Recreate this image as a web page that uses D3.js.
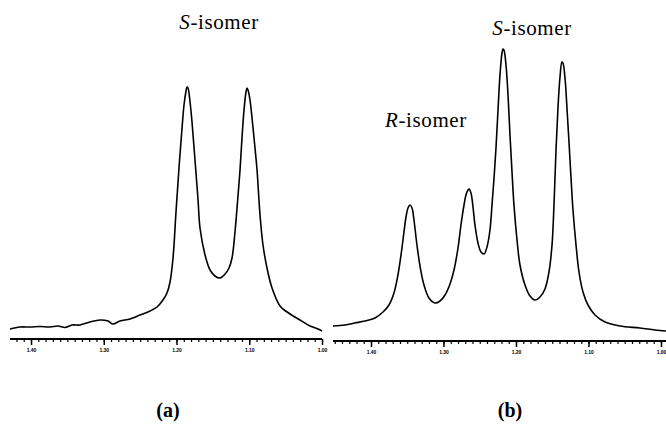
<!DOCTYPE html>
<html><head><meta charset="utf-8">
<script src="https://cdn.jsdelivr.net/npm/d3@7"></script>
<style>body{margin:0;background:#fff}svg{display:block}</style>
</head><body>
<svg id="c" width="666" height="441"></svg>
<script>
// Panel (a): chemical shift (ppm) and intensity (arbitrary units)
const ppmA = [1.4289,1.4151,1.4014,1.3876,1.3739,1.3629,1.3533,1.3436,1.3326,1.3189,1.3052,1.2942,1.2873,1.2777,1.2639,1.2502,1.2364,1.2268,1.2186,1.2131,1.2089,1.2048,1.2007,1.1966,1.1924,1.1897,1.1869,1.1856,1.1842,1.1814,1.1787,1.1746,1.1704,1.1677,1.1608,1.1539,1.1471,1.1402,1.1333,1.1278,1.1237,1.1196,1.1155,1.1127,1.1100,1.1072,1.1045,1.1031,1.1017,1.0990,1.0962,1.0921,1.0893,1.0852,1.0811,1.0756,1.0687,1.0577,1.0440,1.0302,1.0165,1.0055,1.0000];
const intA = [9,11,11,11.5,11,12,10.5,13,13,16,18,17,14,17,19,23,27,31,38,45,56,80,126,170,210,233,247,251,250,236,216,178,138,110,83,68,62,60,64,70,80,106,142,168,200,228,246,250,248,238,220,190,168,123,93,70,50,32,24,18,12,9,7];
// Panel (b)
const ppmB = [1.4524,1.4359,1.4221,1.4083,1.3945,1.3834,1.3752,1.3683,1.3628,1.3586,1.3545,1.3517,1.3490,1.3462,1.3434,1.3407,1.3366,1.3324,1.3269,1.3200,1.3117,1.3048,1.2979,1.2910,1.2855,1.2800,1.2759,1.2717,1.2690,1.2662,1.2648,1.2621,1.2593,1.2566,1.2524,1.2483,1.2441,1.2400,1.2359,1.2331,1.2303,1.2276,1.2248,1.2221,1.2193,1.2179,1.2166,1.2138,1.2110,1.2083,1.2055,1.2028,1.1986,1.1945,1.1876,1.1807,1.1738,1.1669,1.1600,1.1545,1.1503,1.1476,1.1448,1.1421,1.1393,1.1366,1.1352,1.1324,1.1297,1.1269,1.1241,1.1214,1.1172,1.1131,1.1076,1.1007,1.0910,1.0772,1.0566,1.0290,1.0083,0.9931];
const intB = [12,13,15,17,20,26,33,45,63,83,106,121,130,133,130,118,93,72,53,40,35,37,43,54,68,90,113,133,143,148,149,145,131,113,95,86,84,91,108,133,160,190,228,263,285,289,288,273,243,203,166,133,98,73,53,42,38,41,49,66,93,133,188,230,261,276,275,260,230,196,160,128,93,66,46,33,23,16,12,10,8,7];
// Axis ticks
const majorTicks = [1.40,1.30,1.20,1.10,1.00];
const tickLabels = ["1.40","1.30","1.20","1.10","1.00"];
const peakLabels = [
  {panel:"a", iso:"S", text:"-isomer"},
  {panel:"b", iso:"R", text:"-isomer"},
  {panel:"b", iso:"S", text:"-isomer"}
];
const panelLabels = ["(a)","(b)"];

const svg = d3.select("#c");
const y = d3.scaleLinear().domain([0,290]).range([338,48]);

const panels = [
  {ppm:ppmA, inten:intA, dom:[1.4289,1.0], rng:[10,322], axisY:339, label:panelLabels[0], lx:168},
  {ppm:ppmB, inten:intB, dom:[1.4524,0.9931], rng:[333,666], axisY:341, label:panelLabels[1], lx:510}
];

panels.forEach(p => {
  const x = d3.scaleLinear().domain(p.dom).range(p.rng);
  const data = p.ppm.map((v,i)=>({x:v, y:p.inten[i]}));
  const line = d3.line().x(d=>x(d.x)).y(d=>y(d.y)).curve(d3.curveCatmullRom.alpha(0.5));
  svg.append("path").datum(data).attr("d", line)
     .attr("fill","none").attr("stroke","#000").attr("stroke-width",1.6)
     .attr("stroke-linejoin","round");

  const minor = d3.range(Math.ceil(p.dom[1]*100), Math.floor(p.dom[0]*100)+1).map(v=>v/100);
  const gMin = svg.append("g").attr("transform",`translate(0,${p.axisY})`)
     .call(d3.axisBottom(x).tickValues(minor).tickSize(3).tickFormat(""));
  gMin.select(".domain").remove();
  gMin.selectAll("line").attr("stroke","#000").attr("stroke-width",1.2);

  const gMaj = svg.append("g").attr("transform",`translate(0,${p.axisY})`)
     .call(d3.axisBottom(x).tickValues(majorTicks).tickSize(6).tickPadding(3)
       .tickFormat((d,i)=>tickLabels[i]));
  gMaj.select(".domain").remove();
  gMaj.selectAll("line").attr("stroke","#000").attr("stroke-width",1.5);
  gMaj.selectAll("text").attr("font-family","Liberation Sans").attr("font-weight","bold")
     .attr("font-size",5).attr("fill","#000");

  svg.append("line").attr("x1",p.rng[0]).attr("x2",p.rng[1])
     .attr("y1",p.axisY).attr("y2",p.axisY).attr("stroke","#000").attr("stroke-width",2);

  svg.append("text").attr("x",p.lx).attr("y",417).attr("text-anchor","middle")
     .attr("font-family","Liberation Serif").attr("font-weight","bold")
     .attr("font-size",20).text(p.label);
});

const labelPos = [{x:219,y:29},{x:426,y:127},{x:532,y:35}];
peakLabels.forEach((l,i)=>{
  const t = svg.append("text").attr("x",labelPos[i].x).attr("y",labelPos[i].y)
     .attr("text-anchor","middle").attr("font-family","Liberation Serif")
     .attr("font-size",21).attr("letter-spacing",0.6);
  t.append("tspan").attr("font-style","italic").text(l.iso);
  t.append("tspan").text(l.text);
});
</script>
</body></html>
